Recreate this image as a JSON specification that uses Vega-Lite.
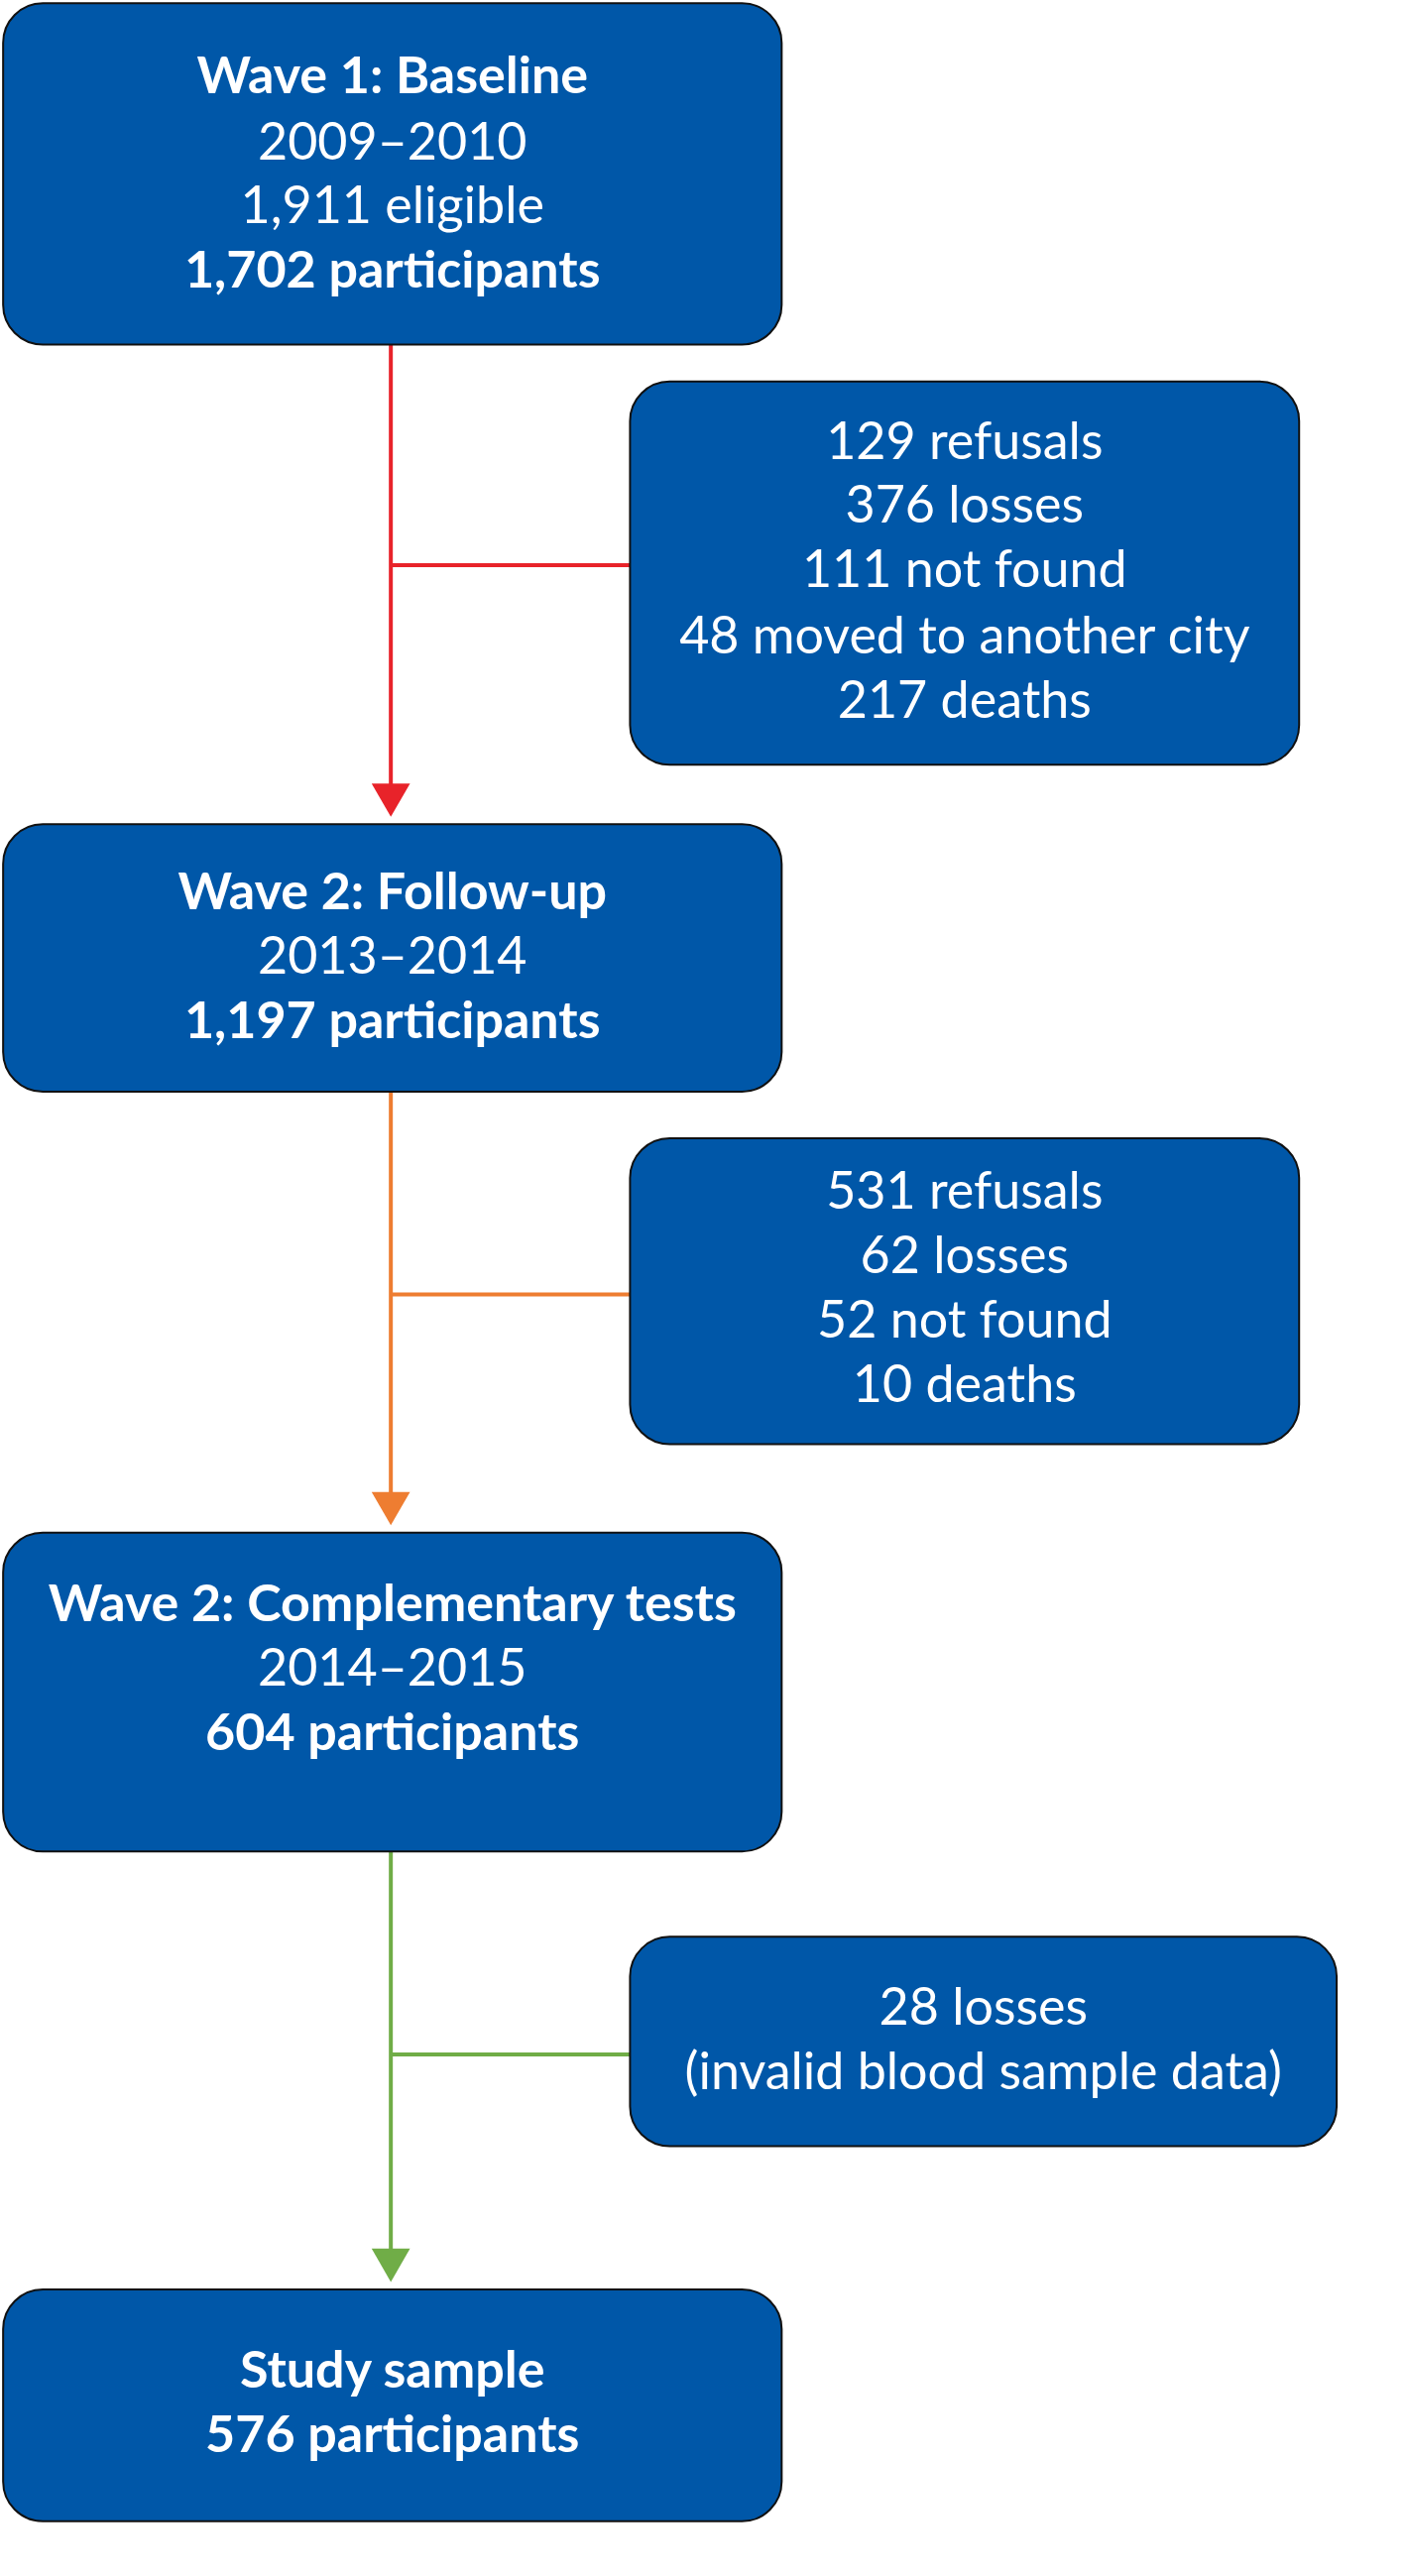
{
  "$schema": "https://vega.github.io/schema/vega-lite/v6.json",
  "width": 1419,
  "height": 2598,
  "autosize": {"type": "none"},
  "padding": 0,
  "background": "white",
  "config": {"view": {"stroke": null}},
  "datasets": {
    "boxes": [
      {"x": 2, "x2": 500, "y": 2, "y2": 214},
      {"x": 403, "x2": 831, "y": 237, "y2": 475},
      {"x": 2, "x2": 500, "y": 512, "y2": 678},
      {"x": 403, "x2": 831, "y": 707, "y2": 897},
      {"x": 2, "x2": 500, "y": 952, "y2": 1150},
      {"x": 403, "x2": 855, "y": 1203, "y2": 1333},
      {"x": 2, "x2": 500, "y": 1422, "y2": 1566}
    ],
    "lines": [
      {"x": 250, "x2": 250, "y": 214, "y2": 496, "c": "#E8232A"},
      {"x": 250, "x2": 403, "y": 351, "y2": 351, "c": "#E8232A"},
      {"x": 250, "x2": 250, "y": 678, "y2": 936, "c": "#EE7D31"},
      {"x": 250, "x2": 403, "y": 804, "y2": 804, "c": "#EE7D31"},
      {"x": 250, "x2": 250, "y": 1150, "y2": 1406, "c": "#70AD47"},
      {"x": 250, "x2": 403, "y": 1276, "y2": 1276, "c": "#70AD47"}
    ],
    "arrows": [
      {"x": 250, "y": 497, "c": "#E8232A"},
      {"x": 250, "y": 937, "c": "#EE7D31"},
      {"x": 250, "y": 1407, "c": "#70AD47"}
    ],
    "texts": [
      {"x": 251, "y": 48, "t": "Wave 1: Baseline", "b": true},
      {"x": 251, "y": 89, "t": "2009–2010", "b": false},
      {"x": 251, "y": 129, "t": "1,911 eligible", "b": false},
      {"x": 251, "y": 169, "t": "1,702 participants", "b": true},
      {"x": 617, "y": 275, "t": "129 refusals", "b": false},
      {"x": 617, "y": 315, "t": "376 losses", "b": false},
      {"x": 617, "y": 355, "t": "111 not found", "b": false},
      {"x": 617, "y": 396, "t": "48 moved to another city", "b": false},
      {"x": 617, "y": 436, "t": "217 deaths", "b": false},
      {"x": 251, "y": 555, "t": "Wave 2: Follow-up", "b": true},
      {"x": 251, "y": 595, "t": "2013–2014", "b": false},
      {"x": 251, "y": 635, "t": "1,197 participants", "b": true},
      {"x": 617, "y": 741, "t": "531 refusals", "b": false},
      {"x": 617, "y": 781, "t": "62 losses", "b": false},
      {"x": 617, "y": 821, "t": "52 not found", "b": false},
      {"x": 617, "y": 861, "t": "10 deaths", "b": false},
      {"x": 251, "y": 997, "t": "Wave 2: Complementary tests", "b": true},
      {"x": 251, "y": 1037, "t": "2014–2015", "b": false},
      {"x": 251, "y": 1077, "t": "604 participants", "b": true},
      {"x": 629, "y": 1248, "t": "28 losses", "b": false},
      {"x": 629, "y": 1288, "t": "(invalid blood sample data)", "b": false},
      {"x": 251, "y": 1473, "t": "Study sample", "b": true},
      {"x": 251, "y": 1513, "t": "576 participants", "b": true}
    ]
  },
  "layer": [
    {
      "data": {"name": "lines"},
      "mark": {"type": "rule", "strokeWidth": 4},
      "encoding": {
        "x": {"field": "x", "type": "quantitative", "scale": {"domain": [0, 856]}, "axis": null},
        "x2": {"field": "x2"},
        "y": {"field": "y", "type": "quantitative", "scale": {"domain": [0, 1568], "reverse": true}, "axis": null},
        "y2": {"field": "y2"},
        "color": {"field": "c", "type": "nominal", "scale": null}
      }
    },
    {
      "data": {"name": "arrows"},
      "mark": {"type": "point", "shape": "triangle-down", "filled": true, "opacity": 1, "size": 1500},
      "encoding": {
        "x": {"field": "x", "type": "quantitative"},
        "y": {"field": "y", "type": "quantitative"},
        "color": {"field": "c", "type": "nominal", "scale": null}
      }
    },
    {
      "data": {"name": "boxes"},
      "mark": {"type": "rect", "color": "#0057A8", "stroke": "#111111", "strokeWidth": 2, "cornerRadius": 40},
      "encoding": {
        "x": {"field": "x", "type": "quantitative"},
        "x2": {"field": "x2"},
        "y": {"field": "y", "type": "quantitative"},
        "y2": {"field": "y2"}
      }
    },
    {
      "data": {"name": "texts"},
      "transform": [{"filter": "!datum.b"}],
      "mark": {"type": "text", "color": "white", "font": "Lato", "fontSize": 52, "baseline": "middle", "align": "center"},
      "encoding": {
        "x": {"field": "x", "type": "quantitative"},
        "y": {"field": "y", "type": "quantitative"},
        "text": {"field": "t"}
      }
    },
    {
      "data": {"name": "texts"},
      "transform": [{"filter": "datum.b"}],
      "mark": {"type": "text", "color": "white", "font": "Lato", "fontWeight": "bold", "fontSize": 52, "baseline": "middle", "align": "center"},
      "encoding": {
        "x": {"field": "x", "type": "quantitative"},
        "y": {"field": "y", "type": "quantitative"},
        "text": {"field": "t"}
      }
    }
  ]
}
